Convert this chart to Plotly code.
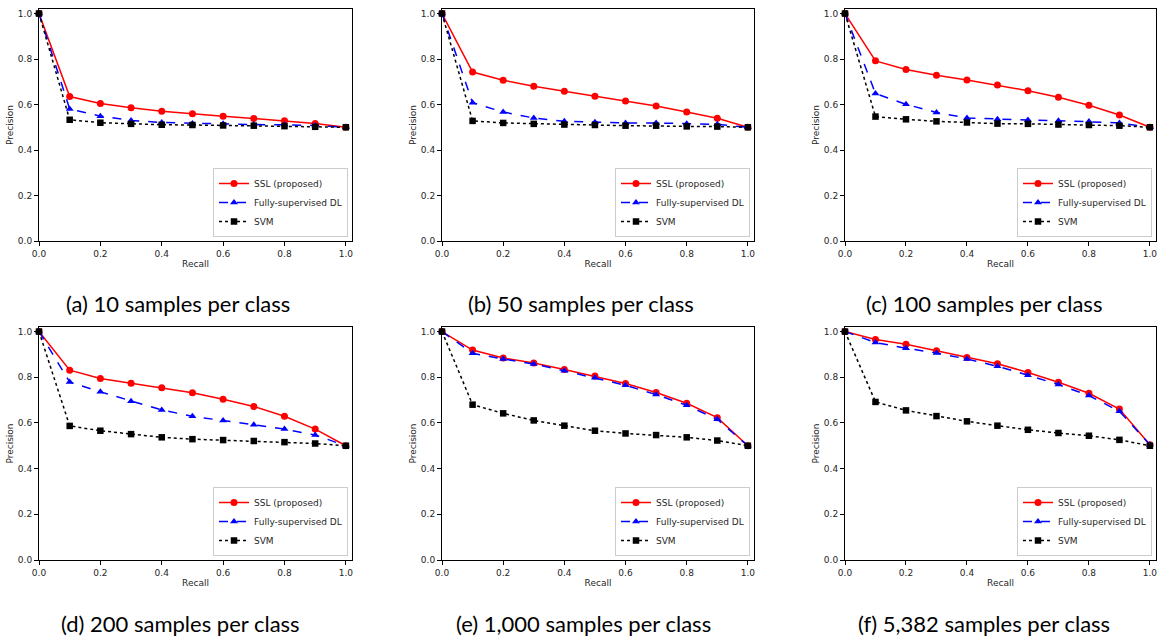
import plotly.graph_objects as go

W, H = 1157, 639

recall = [0.0, 0.1, 0.2, 0.3, 0.4, 0.5, 0.6, 0.7, 0.8, 0.9, 1.0]
tick_vals = [0.0, 0.2, 0.4, 0.6, 0.8, 1.0]
tick_text = ["0.0", "0.2", "0.4", "0.6", "0.8", "1.0"]

series_names = ["SSL (proposed)", "Fully-supervised DL", "SVM"]
captions = [
    "(a) 10 samples per class",
    "(b) 50 samples per class",
    "(c) 100 samples per class",
    "(d) 200 samples per class",
    "(e) 1,000 samples per class",
    "(f) 5,382 samples per class",
]

# (a) 10 samples per class
ssl_10 = [1.0, 0.635, 0.605, 0.586, 0.571, 0.559, 0.549, 0.539, 0.529, 0.517, 0.500]
fsdl_10 = [1.0, 0.580, 0.549, 0.530, 0.521, 0.517, 0.515, 0.512, 0.511, 0.508, 0.500]
svm_10 = [1.0, 0.533, 0.520, 0.515, 0.511, 0.510, 0.508, 0.507, 0.505, 0.502, 0.500]
# (b) 50 samples per class
ssl_50 = [1.0, 0.743, 0.707, 0.680, 0.658, 0.636, 0.616, 0.594, 0.567, 0.540, 0.500]
fsdl_50 = [1.0, 0.608, 0.567, 0.541, 0.526, 0.522, 0.519, 0.519, 0.516, 0.513, 0.500]
svm_50 = [1.0, 0.528, 0.519, 0.515, 0.512, 0.510, 0.507, 0.507, 0.504, 0.503, 0.500]
# (c) 100 samples per class
ssl_100 = [1.0, 0.792, 0.754, 0.729, 0.708, 0.686, 0.661, 0.632, 0.597, 0.554, 0.500]
fsdl_100 = [1.0, 0.648, 0.601, 0.565, 0.541, 0.535, 0.532, 0.529, 0.525, 0.519, 0.500]
svm_100 = [1.0, 0.547, 0.535, 0.526, 0.521, 0.516, 0.515, 0.512, 0.510, 0.507, 0.500]
# (d) 200 samples per class
ssl_200 = [1.0, 0.831, 0.795, 0.774, 0.754, 0.732, 0.704, 0.672, 0.629, 0.573, 0.500]
fsdl_200 = [1.0, 0.779, 0.736, 0.695, 0.657, 0.629, 0.611, 0.592, 0.573, 0.547, 0.500]
svm_200 = [1.0, 0.587, 0.566, 0.551, 0.537, 0.529, 0.525, 0.521, 0.516, 0.510, 0.500]
# (e) 1,000 samples per class
ssl_1000 = [1.0, 0.919, 0.884, 0.862, 0.834, 0.805, 0.773, 0.733, 0.686, 0.623, 0.500]
fsdl_1000 = [1.0, 0.905, 0.880, 0.858, 0.828, 0.798, 0.765, 0.724, 0.677, 0.616, 0.500]
svm_1000 = [1.0, 0.680, 0.642, 0.611, 0.588, 0.566, 0.554, 0.547, 0.537, 0.523, 0.500]
# (f) 5,382 samples per class
ssl_5382 = [1.0, 0.965, 0.944, 0.916, 0.887, 0.859, 0.821, 0.778, 0.730, 0.661, 0.505]
fsdl_5382 = [1.0, 0.952, 0.927, 0.906, 0.880, 0.848, 0.809, 0.768, 0.720, 0.651, 0.505]
svm_5382 = [1.0, 0.692, 0.655, 0.630, 0.607, 0.588, 0.570, 0.556, 0.544, 0.526, 0.500]

panels = [
    (ssl_10, fsdl_10, svm_10),
    (ssl_50, fsdl_50, svm_50),
    (ssl_100, fsdl_100, svm_100),
    (ssl_200, fsdl_200, svm_200),
    (ssl_1000, fsdl_1000, svm_1000),
    (ssl_5382, fsdl_5382, svm_5382),
]

# pixel boxes of each axes (left, right, top, bottom)
boxes = [
    (39, 352, 9, 241), (442, 754, 9, 241), (845, 1156, 9, 241),
    (39, 352, 327, 560), (442, 754, 327, 560), (845, 1156, 327, 560),
]
caption_pos = [(178, 303), (581, 303), (984, 303), (180, 623), (583, 623), (984, 623)]

styles = [
    dict(color="#ff0000", dash="solid", symbol="circle", size=7),
    dict(color="#0000ff", dash="dash", symbol="triangle-up", size=7),
    dict(color="#000000", dash="dot", symbol="square", size=6.5),
]

TICK_FONT = dict(family="DejaVu Sans", size=9, color="#262626")

fig = go.Figure()
layout = dict(
    width=W, height=H, margin=dict(l=0, r=0, t=0, b=0, autoexpand=False),
    paper_bgcolor="white", plot_bgcolor="white", showlegend=True,
    annotations=[],
)

for i, (vals, box) in enumerate(zip(panels, boxes)):
    k = "" if i == 0 else str(i + 1)
    lg = "legend" + k
    for j, (name, y) in enumerate(zip(series_names, vals)):
        st = styles[j]
        fig.add_trace(go.Scatter(
            x=recall, y=y, name=name, mode="lines+markers",
            xaxis="x" + k, yaxis="y" + k, legend=lg,
            line=dict(color=st["color"], dash=st["dash"], width=1.5),
            marker=dict(symbol=st["symbol"], size=st["size"], color=st["color"],
                        line=dict(width=0)),
            cliponaxis=False,
        ))
    l, r, t, b = box
    axis_common = dict(
        showgrid=False, zeroline=False, showline=True, mirror=True,
        linecolor="#000000", linewidth=1, ticks="outside", ticklen=4,
        tickwidth=1, tickcolor="#000000", tickvals=tick_vals, ticktext=tick_text,
        tickfont=TICK_FONT, range=[0, 1.02], automargin=False,
        ticklabeloverflow="allow",
    )
    layout["xaxis" + k] = dict(
        axis_common, domain=[l / W, r / W], anchor="y" + k,
        title=dict(text="Recall", font=TICK_FONT, standoff=2),
    )
    layout["yaxis" + k] = dict(
        axis_common, domain=[1 - b / H, 1 - t / H], anchor="x" + k,
        title=dict(text="Precision", font=TICK_FONT, standoff=2),
    )
    layout[lg] = dict(
        x=(r - 4) / W, y=1 - (b - 4) / H, xanchor="right", yanchor="bottom",
        bgcolor="rgba(255,255,255,0.8)", bordercolor="#cccccc", borderwidth=1,
        font=dict(family="DejaVu Sans", size=9, color="#262626"),
        tracegroupgap=0, itemwidth=30,
    )
    cx, cy = caption_pos[i]
    layout["annotations"].append(dict(
        text=captions[i], x=cx / W, y=1 - cy / H, xref="paper", yref="paper",
        xanchor="center", yanchor="middle", showarrow=False,
        font=dict(family="Lato, Linux Biolinum, sans-serif", size=22, color="#000000"),
    ))

fig.update_layout(**layout)
fig.write_html(
    "out.html",
    config={"displayModeBar": False},
    post_script="document.body.style.margin='0px';document.body.style.overflow='hidden';",
)
